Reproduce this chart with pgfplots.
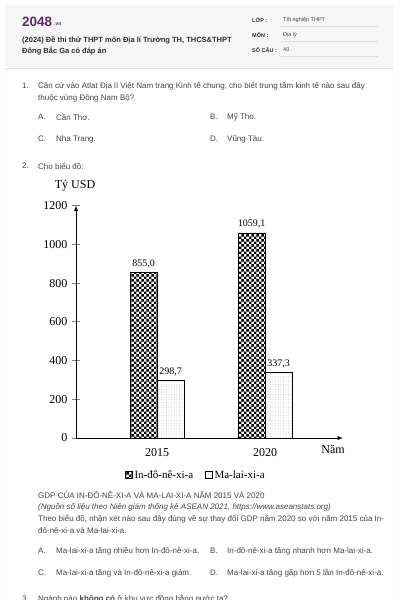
\documentclass[border=0pt]{standalone}
\usepackage{pgfplots}
\pgfplotsset{compat=1.18}
\usetikzlibrary{patterns}
\usepackage{fontspec}
\setmainfont{Liberation Sans}
\newfontfamily\tnr{Liberation Serif}
\definecolor{txt}{HTML}{454545}
\definecolor{htxt}{HTML}{2E2E2E}
\definecolor{logo}{HTML}{5E2A6B}
\definecolor{hdr}{HTML}{F6F6F6}
\definecolor{brd}{HTML}{E0E0E0}
\pgfdeclarepatternformonly{mychecker}{\pgfpointorigin}{\pgfqpoint{5.4pt}{5.4pt}}{\pgfqpoint{5.4pt}{5.4pt}}{%
  \pgfpathrectangle{\pgfpointorigin}{\pgfqpoint{2.7pt}{2.7pt}}%
  \pgfpathrectangle{\pgfqpoint{2.7pt}{2.7pt}}{\pgfqpoint{2.7pt}{2.7pt}}%
  \pgfusepath{fill}}
\pgfdeclarepatternformonly{mydots}{\pgfqpoint{-1pt}{-1pt}}{\pgfqpoint{1pt}{1pt}}{\pgfqpoint{2.6pt}{2.6pt}}{%
  \pgfpathcircle{\pgfpointorigin}{0.35pt}\pgfusepath{fill}}
\newcommand\F[1]{\fontsize{#1}{#1}\selectfont}
\newcommand\T[3]{\node[anchor=west,inner sep=0pt,text=txt,font=\F{8}] at (#1pt,-#2pt) {#3};}
\begin{document}
\begin{tikzpicture}
\useasboundingbox (0,0) rectangle (400pt,-600pt);
\fill[white] (0,0) rectangle (400pt,-600pt);
\draw[brd,fill=white,rounded corners=3pt] (5pt,-5pt) rectangle (393pt,-640pt);
\fill[hdr,rounded corners=3pt] (5.5pt,-5.5pt) rectangle (392.5pt,-68pt);
\draw[brd] (5pt,-68pt) -- (393pt,-68pt);
% header
\node[anchor=west,inner sep=0pt,text=logo,font=\bfseries\F{13.5}] at (22pt,-22pt) {2048};
\node[anchor=west,inner sep=0pt,text=logo,font=\bfseries\F{5}] at (54pt,-24pt) {.vn};
\node[anchor=west,inner sep=0pt,text=htxt,font=\bfseries\F{7.5}] at (22pt,-40pt) {(2024) Đề thi thử THPT môn Địa lí Trường TH, THCS\&THPT};
\node[anchor=west,inner sep=0pt,text=htxt,font=\bfseries\F{7.5}] at (22pt,-51pt) {Đông Bắc Ga có đáp án};
\node[anchor=west,inner sep=0pt,text=htxt,font=\bfseries\F{5.5}] at (252pt,-20pt) {LỚP :};
\node[anchor=west,inner sep=0pt,text=htxt,font=\bfseries\F{5.5}] at (252pt,-35pt) {MÔN :};
\node[anchor=west,inner sep=0pt,text=htxt,font=\bfseries\F{5.5}] at (252pt,-50pt) {SỐ CÂU :};
\node[anchor=west,inner sep=0pt,text=txt,font=\F{5.5}] at (283pt,-20pt) {Tốt nghiệp THPT};
\node[anchor=west,inner sep=0pt,text=txt,font=\F{5.5}] at (283pt,-35pt) {Địa lý};
\node[anchor=west,inner sep=0pt,text=txt,font=\F{5.5}] at (283pt,-50pt) {40};
\foreach \yy in {26,41,56} {\draw[brd] (280pt,-\yy pt) -- (378pt,-\yy pt);}
% question 1
\T{22}{86}{1.}
\T{38}{86}{Căn cứ vào Atlat Địa lí Việt Nam trang Kinh tế chung, cho biết trung tâm kinh tế nào sau đây}
\T{38}{98}{thuộc vùng Đông Nam Bộ?}
\T{38}{117}{A.}\T{56}{117}{Cần Thơ.}
\T{210}{117}{B.}\T{227}{117}{Mỹ Tho.}
\T{38}{139}{C.}\T{56}{139}{Nha Trang.}
\T{210}{139}{D.}\T{227}{139}{Vũng Tàu.}
\T{22}{166}{2.}\T{38}{166}{Cho biểu đồ:}
% chart
\node[inner sep=0pt,font=\tnr\F{12}] at (75pt,-186pt) {Tỷ USD};
\node[inner sep=0pt,font=\tnr\F{12}] at (333pt,-449pt) {Năm};
\begin{axis}[
  at={(76pt,-438pt)}, anchor=south west,
  scale only axis, width=267pt, height=232.4pt,
  xmin=-0.75, xmax=1.722, ymin=0, ymax=1200,
  axis x line=bottom, axis y line=left,
  axis line style={-latex, line width=0.9pt},
  ybar=0pt, bar width=27pt,
  xtick={0,1}, xticklabels={2015,2020},
  ytick={0,200,...,1200},
  x tick style={draw=none},
  y tick style={line width=0.9pt},
  tick align=center, major tick length=8pt,
  ticklabel style={font=\tnr\F{12}},
  /pgf/number format/assume math mode=true,
  /pgf/number format/1000 sep={},
  xticklabel style={yshift=-3pt},
  yticklabel style={xshift=-1pt},
  nodes near coords={\pgfmathprintnumber[fixed,fixed zerofill,precision=1,use comma,1000 sep={},assume math mode=true]{\pgfplotspointmeta}},
  every node near coord/.append style={font=\tnr\F{10}, yshift=1pt},
  legend style={draw=none, at={(0.449,-0.159)}, anchor=center, font=\tnr\F{11}, legend columns=2, /tikz/every even column/.append style={column sep=10pt}, inner sep=0pt},
  legend image code/.code={\draw[#1, draw=black, line width=0.4pt] (0pt,-3.5pt) rectangle (7pt,3.5pt);},
  legend cell align=left,
]
\addplot[draw=black, line width=0.5pt, pattern=mychecker, pattern color=black] coordinates {(0,855.0) (1,1059.1)};
\addplot[draw=black, line width=0.5pt, pattern=mydots, pattern color=gray!80] coordinates {(0,298.7) (1,337.3)};
\legend{In-đô-nê-xi-a, Ma-lai-xi-a}
\end{axis}
% below chart
\T{38}{495}{GDP CỦA IN-ĐÔ-NÊ-XI-A VÀ MA-LAI-XI-A NĂM 2015 VÀ 2020}
\T{38}{507}{\itshape (Nguồn số liệu theo Niên giám thống kê ASEAN 2021, https://www.aseanstats.org)}
\T{38}{519}{Theo biểu đồ, nhận xét nào sau đây đúng về sự thay đổi GDP năm 2020 so với năm 2015 của In-}
\T{38}{531}{đô-nê-xi-a và Ma-lai-xi-a.}
\T{38}{551}{A.}\T{56}{551}{Ma-lai-xi-a tăng nhiều hơn In-đô-nê-xi-a.}
\T{210}{551}{B.}\T{227}{551}{In-đô-nê-xi-a tăng nhanh hơn Ma-lai-xi-a.}
\T{38}{573}{C.}\T{56}{573}{Ma-lai-xi-a tăng và In-đô-nê-xi-a giảm.}
\T{210}{573}{D.}\T{227}{573}{Ma-lai-xi-a tăng gấp hơn 5 lần In-đô-nê-xi-a.}
\T{22}{599}{3.}\T{38}{599}{Ngành nào \textbf{không có} ở khu vực đồng bằng nước ta?}
\end{tikzpicture}
\end{document}
